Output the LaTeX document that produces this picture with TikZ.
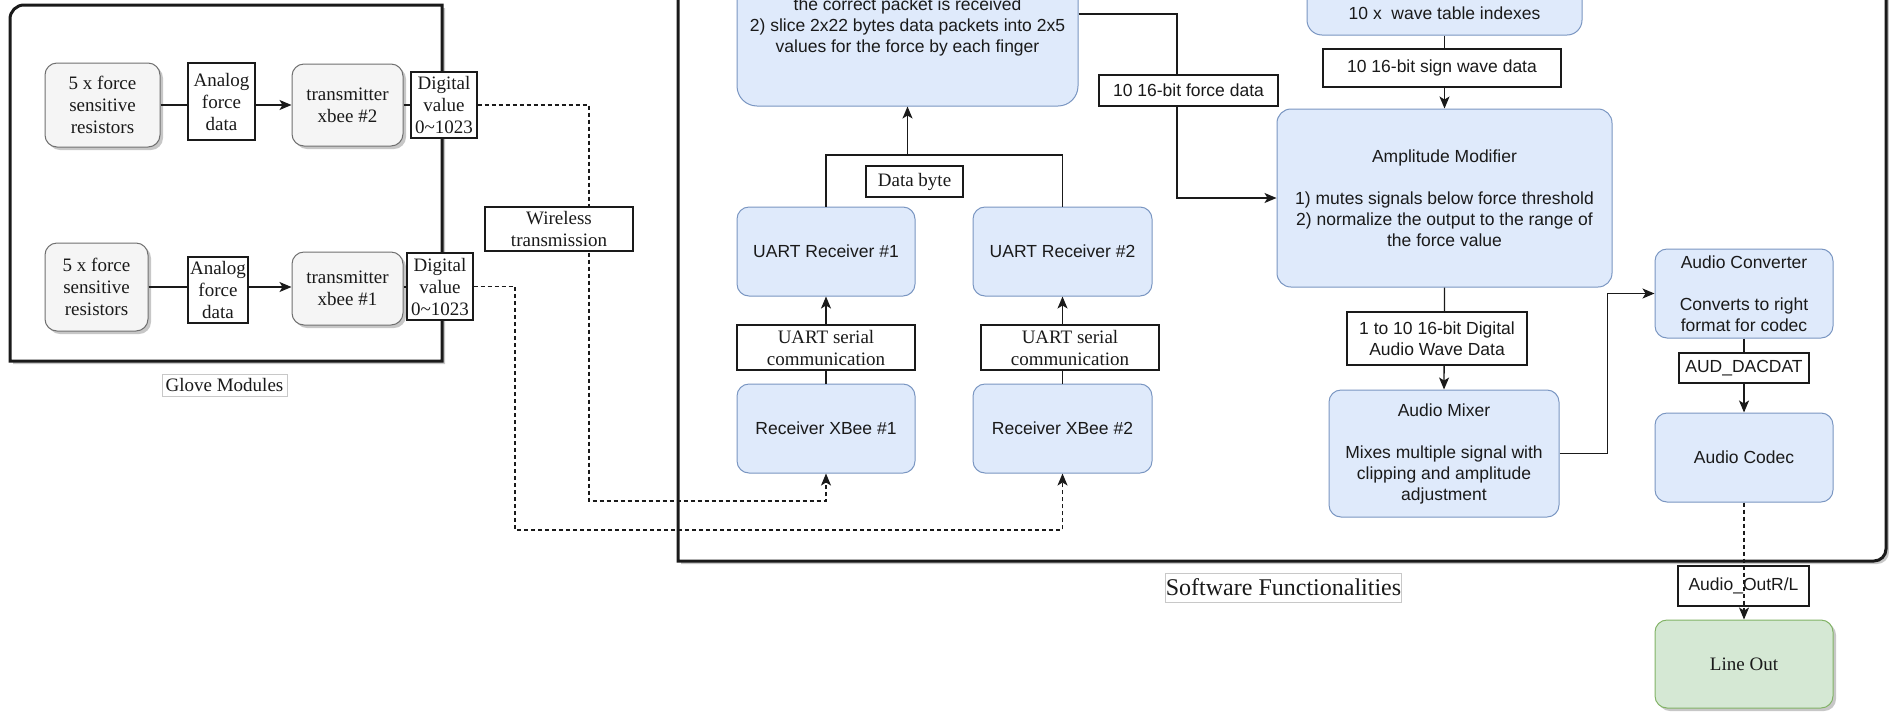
\documentclass[tikz,border=0pt]{standalone}
\usepackage{fontspec}
\setmainfont{Liberation Serif}
\newfontfamily\arialfont{Liberation Sans}
\usetikzlibrary{arrows.meta,shadows}

\definecolor{bluefill}{HTML}{DFEAFB}
\definecolor{blueline}{HTML}{7A96C2}
\definecolor{greyfill}{HTML}{F5F5F5}
\definecolor{greyline}{HTML}{707070}
\definecolor{greenfill}{HTML}{D5E8D4}
\definecolor{greenline}{HTML}{82B366}
\definecolor{ink}{HTML}{1A1A1A}
\definecolor{capline}{HTML}{C8C8C8}

\tikzset{
  serif/.style={font=\fontsize{19}{22}\selectfont},
  sans/.style={font=\arialfont\fontsize{17.5}{21}\selectfont},
  shadowed/.style={drop shadow={shadow xshift=3pt, shadow yshift=-3pt, opacity=0.22, fill=black}},
  bluebox/.style={draw=blueline, fill=bluefill, line width=1pt, rounded corners=12pt,
    sans, align=center, text=ink, inner sep=0pt},
  greybox/.style={draw=greyline, fill=greyfill, line width=1pt, rounded corners=12pt,
    serif, align=center, text=ink, inner sep=0pt, shadowed},
  greenbox/.style={draw=greenline, fill=greenfill, line width=1pt, rounded corners=12pt,
    serif, align=center, text=ink, inner sep=0pt, shadowed},
  tag/.style={draw=ink, fill=white, line width=1.2pt, align=center, inner sep=0pt, text=ink},
  caption/.style={draw=capline, fill=white, line width=0.8pt, inner sep=0pt, text=ink},
  bigbox/.style={draw=ink, fill=white, line width=3pt, shadowed},
  conn/.style={draw=ink, line width=1.3pt},
  tip/.style={-{Stealth[length=12pt,width=10pt,inset=3pt]}},
  arr/.style={conn, tip},
  wire/.style={conn, dash pattern=on 4pt off 3pt, tip},
}

\begin{document}
\begin{tikzpicture}[x=1pt,y=-1pt]
\path[use as bounding box] (0,0) rectangle (1889,713);
\clip (0,0) rectangle (1889,713);

% ---------- containers ----------
\draw[bigbox] (10,361) -- (10,19) arc[start angle=180, end angle=90, radius=14pt]
  -- (442,5) -- (442,361) -- cycle;
\draw[bigbox] (678,-40) -- (678,561) -- (1874,561)
  arc[start angle=-90, end angle=0, radius=12pt] -- (1886,-40) -- cycle;

\node[caption, serif, minimum width=125pt, minimum height=22pt] (glovecap) at (224.5,385) {Glove Modules};
\node[caption, font=\fontsize{24}{28}\selectfont, minimum width=233pt, minimum height=29pt] (swcap) at (1283.5,587.5) {Software Functionalities};

% ---------- glove modules ----------
\node[greybox, minimum width=115pt, minimum height=84pt] (fsr2) at (102.5,105) {5 x force\\sensitive\\resistors};
\node[tag, serif, minimum width=67pt, minimum height=77pt] (an2) at (221.5,101.5) {Analog\\force\\data};
\node[greybox, minimum width=111pt, minimum height=82pt] (tx2) at (347.5,105) {transmitter\\xbee \#2};
\node[tag, serif, minimum width=66pt, minimum height=66pt] (dv2) at (444,105) {Digital\\value\\0\textasciitilde1023};

\node[greybox, minimum width=103pt, minimum height=88pt] (fsr1) at (96.5,287) {5 x force\\sensitive\\resistors};
\node[tag, serif, minimum width=60pt, minimum height=66pt] (an1) at (218,290) {Analog\\force\\data};
\node[greybox, minimum width=111pt, minimum height=73pt] (tx1) at (347.5,288.5) {transmitter\\xbee \#1};
\node[tag, serif, minimum width=66pt, minimum height=67pt] (dv1) at (440,286.5) {Digital\\value\\0\textasciitilde1023};

\draw[conn] (fsr2.east) -- (fsr2.east -| an2.west);
\draw[arr] (an2.east |- fsr2.east) -- (tx2.west |- fsr2.east);
\draw[conn] (tx2.east) -- (dv2.west);
\draw[conn] (fsr1.east) -- (fsr1.east -| an1.west);
\draw[arr] (an1.east |- fsr1.east) -- (tx1.west |- fsr1.east);
\draw[conn] (tx1.east |- fsr1.east) -- (dv1.west |- fsr1.east);

% ---------- receivers ----------
\node[bluebox, rounded corners=20pt, minimum width=341pt, minimum height=158pt] (parser) at (907.5,27)
  {the correct packet is received\\2) slice 2x22 bytes data packets into 2x5\\values for the force by each finger};
\node[bluebox, minimum width=178pt, minimum height=89pt] (uart1) at (826,251.5) {UART Receiver \#1};
\node[bluebox, minimum width=179pt, minimum height=89pt] (uart2) at (1062.5,251.5) {UART Receiver \#2};
\node[bluebox, minimum width=178pt, minimum height=89pt] (rx1) at (826,428.5) {Receiver XBee \#1};
\node[bluebox, minimum width=179pt, minimum height=89pt] (rx2) at (1062.5,428.5) {Receiver XBee \#2};

\coordinate (jn) at (907.5,155);
\draw[conn] (uart1.north) |- (jn) -| (uart2.north);
\draw[arr] (jn) -- (parser.south);
\node[tag, serif, minimum width=97pt, minimum height=31pt] (databyte) at (914.5,181.5) {Data byte};

\draw[arr] (rx1.north) -- (uart1.south);
\draw[arr] (rx2.north) -- (uart2.south);
\node[tag, serif, minimum width=178pt, minimum height=45pt] (ser1) at (826,347.5) {UART serial\\communication};
\node[tag, serif, minimum width=178pt, minimum height=45pt] (ser2) at (1070,347.5) {UART serial\\communication};

% ---------- wireless links ----------
\coordinate (w1) at (589,501);
\coordinate (w2) at (515,530);
\draw[wire] (dv2.east) -| (w1) -| (rx1.south);
\draw[wire] (dv1.east) -| (w2) -| (rx2.south);
\node[tag, serif, minimum width=148pt, minimum height=44pt] (wireless) at (559,229) {Wireless\\transmission};

% ---------- audio chain ----------
\node[bluebox, rounded corners=15pt, minimum width=275pt, minimum height=95pt] (wave) at (1444.5,-12.5) {};
\node[sans, text=ink, inner sep=0pt] (wavetxt) at (1444.5,13) {10 x\ \ wave table indexes};
\node[bluebox, rounded corners=14pt, minimum width=335pt, minimum height=178pt] (amp) at (1444.5,198)
  {Amplitude Modifier\\[21pt]1) mutes signals below force threshold\\2) normalize the output to the range of\\the force value};
\node[bluebox, minimum width=230pt, minimum height=127pt] (mixer) at (1444,453.5)
  {Audio Mixer\\[21pt]Mixes multiple signal with\\clipping and amplitude\\adjustment};
\node[bluebox, minimum width=178pt, minimum height=89pt] (conv) at (1744,293.5)
  {Audio Converter\\[21pt]Converts to right\\format for codec};
\node[bluebox, minimum width=178pt, minimum height=89pt] (codec) at (1744,457.5) {Audio Codec};
\node[greenbox, minimum width=178pt, minimum height=88pt] (lineout) at (1744,664) {Line Out};

\coordinate (fx) at (1177,14);
\draw[arr] ([yshift=13pt]parser.east) -- (fx) |- (amp.west);
\node[tag, sans, minimum width=179pt, minimum height=31pt] (forcelbl) at (1188.5,90.5) {10 16-bit force data};

\draw[arr] (wave.south) -- (amp.north);
\node[tag, sans, minimum width=238pt, minimum height=38pt] (signlbl) at (1442,68) {10 16-bit sign wave data};

\draw[arr] (amp.south) -- (mixer.north);
\node[tag, sans, minimum width=180pt, minimum height=53pt] (digilbl) at (1437,338.5) {1 to 10 16-bit Digital\\Audio Wave Data};

\draw[arr] (mixer.east) -- ++(48,0) |- (conv.west);

\draw[arr] (conv.south) -- (codec.north);
\node[tag, sans, minimum width=130pt, minimum height=30pt] (daclbl) at (1744,368) {AUD\_DACDAT};

\node[tag, sans, minimum width=131pt, minimum height=40pt] (outlbl) at (1743.5,586) {Audio\_OutR/L};
\draw[wire] (codec.south) -- (lineout.north);
\end{tikzpicture}
\end{document}
